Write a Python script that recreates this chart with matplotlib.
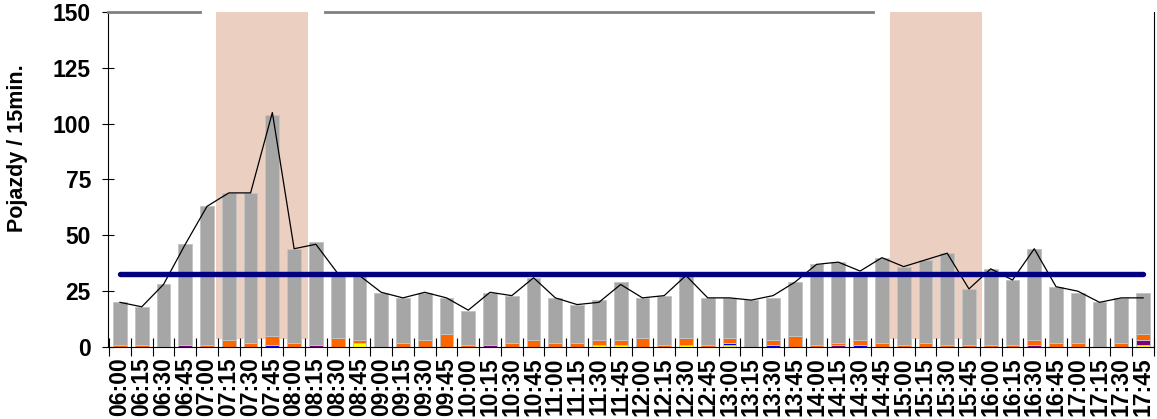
import matplotlib
matplotlib.use("Agg")
import matplotlib.pyplot as plt
import numpy as np

plt.rcParams['font.family'] = ['Liberation Sans', 'DejaVu Sans']

times = ["06:00","06:15","06:30","06:45","07:00","07:15","07:30","07:45","08:00","08:15",
         "08:30","08:45","09:00","09:15","09:30","09:45","10:00","10:15","10:30","10:45",
         "11:00","11:15","11:30","11:45","12:00","12:15","12:30","12:45","13:00","13:15",
         "13:30","13:45","14:00","14:15","14:30","14:45","15:00","15:15","15:30","15:45",
         "16:00","16:15","16:30","16:45","17:00","17:15","17:30","17:45"]

# total vehicles per 15 min (bar heights)
totals = [20, 18, 28, 46, 63, 69, 69, 104, 44, 47,
          32, 32, 24, 22, 24, 22, 16, 24, 23, 31,
          22, 19, 21, 29, 22, 23, 32, 22, 22, 21,
          22, 29, 37, 38, 33, 40, 36, 39, 42, 26,
          35, 30, 44, 27, 24, 20, 22, 24]

# line series
line_vals = [20, 18, 28, 46, 63, 69, 69, 105, 44, 46,
             33, 32, 24.5, 22, 24.5, 22, 16.5, 24.5, 23, 31,
             22, 19, 20, 28, 22, 23, 32, 22, 22, 21,
             23, 29, 37, 38, 34, 40, 36, 39, 42, 26,
             35, 30, 44, 27, 25, 20, 22, 22]

yellow = [0,0,0,0,0,0,0,0,0,0, 0,2,0,0,0,0,0,0,0,0, 0,0,1,1,0,0,1,0,1,0,
          0,0,0,0,0,0,0,0,0,0, 0,0,0,0,0,0,0,1]
blue   = [0,0,0,0,0,0,0,1,0,0, 0,0,0,0,0,0,0,0,0,0, 0,0,0,0,0,0,0,0,1,0,
          1,0,0,0,1,0,0,0,0,0, 0,0,0,0,0,0,0,0]
purple = [0,0,0,1,0,0,0,0,0,1, 0,0,0,0,0,0,0,1,0,0, 0,0,0,0,0,0,0,0,0,0,
          0,0,0,1,0,0,0,0,0,0, 0,0,1,0,0,0,0,2]
orange = [1,1,0,0,1,3,2,4,2,0, 4,1,0,2,3,6,1,0,2,3, 2,2,2,2,4,1,3,1,2,0,
          2,5,1,1,2,2,1,2,1,1, 1,1,2,2,2,0,2,3]

peak_periods = [(4.39, 8.66), (35.37, 39.6)]
top_border_segments = [(-0.55, 3.67), (9.4, 34.6)]

x = np.arange(len(times))
yellow = np.array(yellow); blue = np.array(blue); purple = np.array(purple); orange = np.array(orange)
gray = np.array(totals) - yellow - blue - purple - orange
mean_level = np.mean(totals)

fig = plt.figure(figsize=(11.57, 4.19), dpi=100)
ax = fig.add_axes([108/1157, 1-347/419, (1154-108)/1157, (347-12)/419])

for a, b in peak_periods:
    ax.axvspan(a, b, ymin=3.7/150, ymax=1, color='#EBD0C2', zorder=1, lw=0)

w = 0.63
bottom = np.zeros(len(x))
for vals, col in [(yellow, '#FFFF00'), (blue, '#0000FF'), (purple, '#800080'),
                  (orange, '#FF6600'), (gray, '#A6A6A6')]:
    ax.bar(x, vals, w, bottom=bottom, color=col, edgecolor='#C4C4C4', linewidth=0.7, zorder=2)
    bottom = bottom + vals

ax.plot(x, line_vals, color='black', lw=0.9, zorder=4)
ax.plot([x[0], x[-1]], [mean_level, mean_level], color='#000080', lw=3.9,
        solid_capstyle='round', zorder=5)

for a, b in top_border_segments:
    ax.plot([a, b], [150, 150], color='#808080', lw=2, zorder=6, clip_on=False)

ax.set_xlim(-0.55, 47.45)
ax.set_ylim(0, 150)
ax.spines['top'].set_visible(False)
ax.spines['left'].set_color('black')
ax.spines['bottom'].set_color('black')
ax.spines['right'].set_color('black')

ax.set_yticks([0, 25, 50, 75, 100, 125, 150])
ax.set_yticklabels(['0', '25', '50', '75', '100', '125', '150'], fontsize=16.5, fontweight='bold')
ax.tick_params(axis='y', direction='inout', length=8.5, width=0.8, pad=8)

ax.set_xticks(x)
ax.set_xticklabels(times, rotation=90, fontsize=16.5, fontweight='bold')
ax.tick_params(axis='x', which='major', length=0, pad=7.5)
ax.set_xticks(np.arange(-0.5, 48, 1), minor=True)
ax.tick_params(axis='x', which='minor', direction='inout', length=13, width=0.8)

fig.text(18/1157, 1-148/419, 'Pojazdy / 15min.', rotation=90, ha='center', va='center',
         fontsize=15.5, fontweight='bold')

fig.savefig('out.png', dpi=100)
